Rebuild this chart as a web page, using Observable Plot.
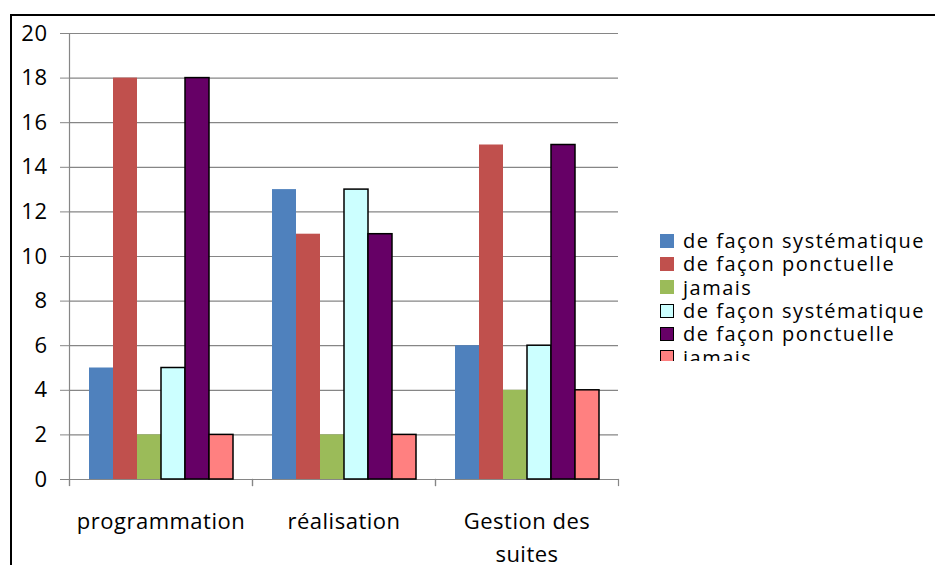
<!DOCTYPE html>
<html>
<head>
<meta charset="utf-8">
<script src="https://cdn.jsdelivr.net/npm/d3@7"></script>
<script src="https://cdn.jsdelivr.net/npm/@observablehq/plot@0.6"></script>
<style>
  html, body { margin: 0; padding: 0; background: #fff; }
  #wrap { position: relative; width: 935px; height: 565px; overflow: hidden; font-family: "Open Sans", sans-serif; }
  #border { position: absolute; left: 10px; top: 14px; width: 960px; height: 600px; border: 2px solid #000; box-sizing: border-box; }
  #chart { position: absolute; left: 0; top: 0; }
  #legend { position: absolute; left: 660px; top: 229px; width: 275px; height: 132px; overflow: hidden; }
  .item { height: 23.3px; line-height: 23px; display: flex; align-items: center; font-size: 20px; letter-spacing: 1.5px; color: #000; white-space: nowrap; }
  .swatch { width: 14px; height: 14px; box-sizing: border-box; margin-right: 9px; flex: none; }
</style>
</head>
<body>
<div id="wrap">
  <div id="border"></div>
  <div id="chart"></div>
  <div id="legend"></div>
</div>
<script>
// Categories along the horizontal axis
const categories = ["programmation", "réalisation", "Gestion des suites"];
const categoryLabels = ["programmation", "réalisation", "Gestion des\nsuites"];

// Six series (the second triple repeats the first with outlined bars)
const seriesKeys = ["s1", "s2", "s3", "s4", "s5", "s6"];
const seriesNames = ["de façon systématique", "de façon ponctuelle", "jamais",
                     "de façon systématique", "de façon ponctuelle", "jamais"];
const seriesColors = ["#4F81BD", "#C0504D", "#9BBB59", "#CCFFFF", "#660066", "#FF8080"];
const seriesOutlined = [false, false, false, true, true, true];

// Values per series, one per category
const s1 = [5, 13, 6];
const s2 = [18, 11, 15];
const s3 = [2, 2, 4];
const s4 = [5, 13, 6];
const s5 = [18, 11, 15];
const s6 = [2, 2, 4];
const seriesValues = [s1, s2, s3, s4, s5, s6];

const yTicks = [0, 2, 4, 6, 8, 10, 12, 14, 16, 18, 20];

const rows = [];
seriesKeys.forEach((k, i) => {
  categories.forEach((c, j) => {
    rows.push({cat: c, series: k, value: seriesValues[i][j], outlined: seriesOutlined[i]});
  });
});

const gray = "#868686";

const chart = Plot.plot({
  width: 935,
  height: 565,
  marginLeft: 69,
  marginRight: 317,
  marginTop: 33,
  marginBottom: 86,
  style: {fontFamily: "'Open Sans', sans-serif", color: "#000", background: "transparent", letterSpacing: "0.5px"},
  fx: {domain: categories, paddingInner: 0, paddingOuter: 0, label: null, axis: null},
  x: {domain: seriesKeys, paddingInner: 0, paddingOuter: 0.7, axis: null},
  y: {domain: [0, 20], axis: null},
  color: {domain: seriesKeys, range: seriesColors},
  marks: [
    Plot.ruleY(yTicks, {stroke: gray, strokeWidth: 1.2}),
    Plot.axisY(yTicks, {tickSize: 9, tickPadding: 13, fontSize: 22, stroke: gray, fill: "#000", label: null, textStroke: "none"}),
    Plot.frame({anchor: "left", facetAnchor: "left", stroke: gray, strokeWidth: 1.2, insetBottom: -6}),
    Plot.frame({anchor: "right", stroke: gray, strokeWidth: 1.2, insetTop: 446, insetBottom: -6}),
    Plot.frame({anchor: "left", stroke: gray, strokeWidth: 1.2, insetTop: 446, insetBottom: -6}),
    Plot.barY(rows.filter(d => !d.outlined), {fx: "cat", x: "series", y: "value", fill: "series", inset: 0}),
    Plot.barY(rows.filter(d => d.outlined), {fx: "cat", x: "series", y: "value", fill: "series", inset: 0, stroke: "#000", strokeWidth: 1.5}),
    Plot.axisFx({anchor: "bottom", tickSize: 0, tickPadding: 26, fontSize: 22, lineHeight: 1.5, label: null,
                 tickFormat: d => categoryLabels[categories.indexOf(d)]})
  ]
});
document.getElementById("chart").appendChild(chart);

// Legend
const legend = d3.select("#legend");
seriesNames.forEach((name, i) => {
  const item = legend.append("div").attr("class", "item");
  item.append("div").attr("class", "swatch")
    .style("background", seriesColors[i])
    .style("border", seriesOutlined[i] ? "1.5px solid #000" : "none");
  item.append("span").text(name);
});
</script>
</body>
</html>
